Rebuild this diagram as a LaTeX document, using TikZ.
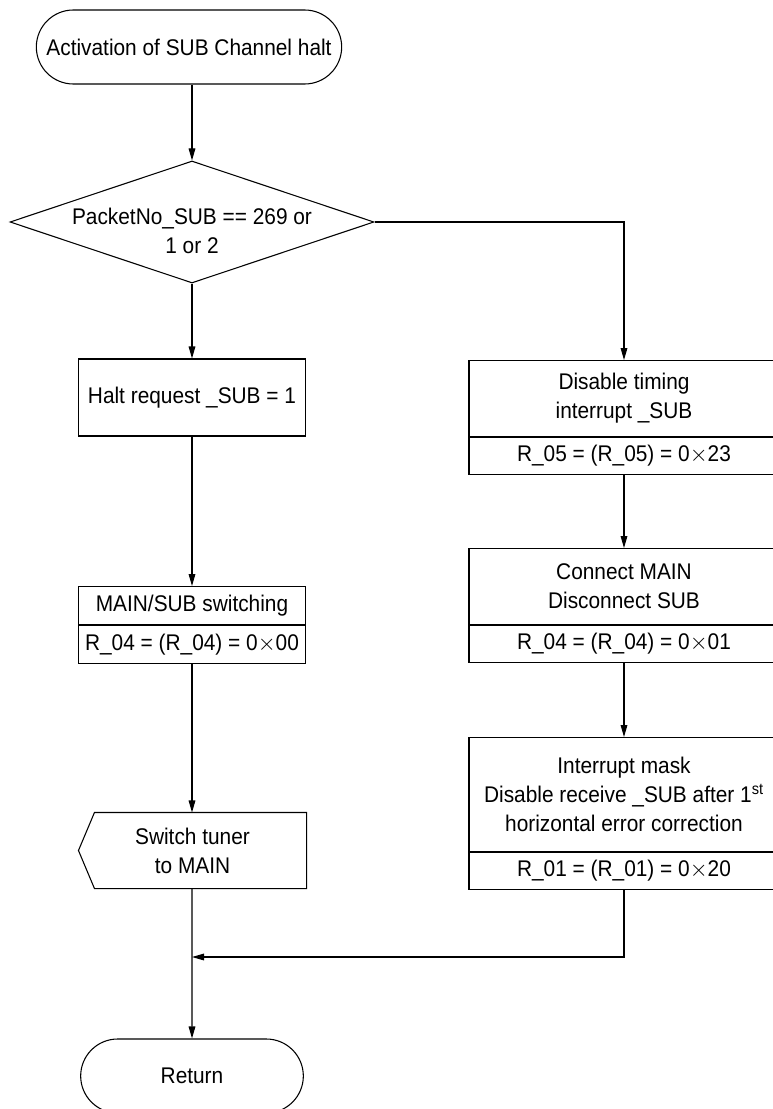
\documentclass[tikz,border=0pt]{standalone}
\usepackage{fontspec}
\setmainfont{Liberation Sans}[FakeStretch=0.92]
\usetikzlibrary{arrows.meta,positioning,shapes.geometric,shapes.misc}
\tikzset{
  base/.style={
    draw=black,
    line width=0.8pt,
    align=center,
    inner sep=2pt,
    font=\fontsize{17}{21.75}\selectfont
  },
  terminal/.style={
    base,
    rounded rectangle,
    minimum height=55.5pt
  },
  decision/.style={
    base,
    diamond,
    minimum width=273pt,
    minimum height=91.5pt
  },
  proc/.style={
    base,
    rectangle,
    minimum width=170.25pt
  },
  wide/.style={
    base,
    rectangle,
    minimum width=232.5pt
  },
  reg/.style={
    base,
    rectangle,
    minimum height=27.75pt
  },
  display/.style={
    base,
    draw=none,
    rectangle,
    minimum width=170.25pt,
    minimum height=56.25pt
  },
  arrow/.style={
    -{Triangle[length=9pt,width=5pt]},
    line width=0.8pt
  }
}
\begin{document}
\begin{tikzpicture}[x=0.75pt,y=-0.75pt]
\useasboundingbox (0,0) rectangle (772,1109);
% left column
\node[terminal, minimum width=233pt] (start) at (189,47) {Activation of SUB Channel halt};
\node[decision, label={[base, draw=none, yshift=-7pt]center:PacketNo\_SUB == 269 or\\1 or 2}] (dec) at (192,222) {};
\node[proc, minimum height=57.75pt] (halt) at (192,397.5) {Halt request \_SUB = 1};
\node[proc, minimum height=28.5pt, anchor=north] (ms) at (192,586) {MAIN/SUB switching};
\node[proc, minimum height=28.5pt, below=0pt of ms] (msr) {R\_04 = (R\_04) = 0$\times$00};
\node[display] (sw) at (192.5,850.5) {Switch tuner\\to MAIN};
\draw[line width=0.8pt] (sw.north east) -- (sw.south east) -- ([xshift=12pt]sw.south west)
  -- (sw.west) -- ([xshift=12pt]sw.north west) -- cycle;
\node[terminal, minimum width=171pt] (ret) at (192,1076) {Return};
% right column
\node[wide, minimum height=57pt, anchor=north] (t1) at (624,360) {Disable timing\\interrupt \_SUB};
\node[wide, reg, below=0pt of t1] (r1) {R\_05 = (R\_05) = 0$\times$23};
\node[wide, minimum height=57pt, anchor=north] (t2) at (624,548) {Connect MAIN\\Disconnect SUB};
\node[wide, reg, below=0pt of t2] (r2) {R\_04 = (R\_04) = 0$\times$01};
\node[wide, minimum height=85.5pt, anchor=north] (t3) at (624,737) {Interrupt mask\\Disable receive \_SUB after 1\textsuperscript{st}\\horizontal error correction};
\node[wide, reg, below=0pt of t3] (r3) {R\_01 = (R\_01) = 0$\times$20};
\coordinate (join) at (192,957);
% connectors
\draw[arrow] (start.south -| dec.north) -- (dec);
\draw[arrow] (dec) -- (halt);
\draw[arrow] (dec.east) -| (t1);
\draw[arrow] (halt) -- (ms);
\draw[arrow] (msr.south) -- (msr.south |- sw.north);
\draw[arrow] (r1) -- (t2);
\draw[arrow] (r2) -- (t3);
\draw[arrow] (r3) |- (join);
\draw[arrow] (ret.north |- sw.south) -- (ret);
\end{tikzpicture}
\end{document}
